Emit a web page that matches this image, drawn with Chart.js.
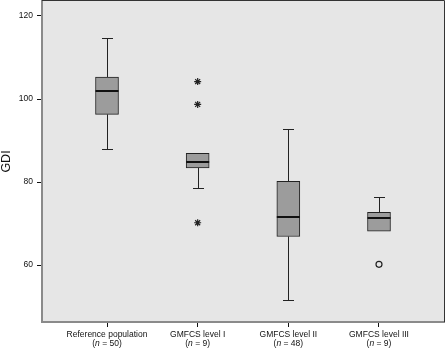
<!DOCTYPE html>
<html>
<head>
<meta charset="utf-8">
<script src="https://cdn.jsdelivr.net/npm/chart.js@4"></script>
<style>
  body { margin: 0; background: #fff; }
</style>
</head>
<body>
<canvas id="chart" width="445" height="350"></canvas>
<script>
// Groups and sizes
const categories = ['Reference population', 'GMFCS level I', 'GMFCS level II', 'GMFCS level III'];
const groupSizes = [50, 9, 48, 9];

// Box plot statistics (GDI)
const whiskerLow = [88.0, 78.6, 51.7, 68.2];
const q1 = [96.3, 83.4, 66.9, 68.2];
const medians = [101.9, 84.8, 71.6, 71.3];
const q3 = [105.3, 86.9, 80.2, 72.7];
const whiskerHigh = [114.6, 86.9, 92.7, 76.5];

// Extremes (asterisks) and outliers (circles)
const extremeGroup = [1, 1, 1];
const extremeValues = [104.2, 98.7, 70.2];
const outlierGroup = [3];
const outlierValues = [60.2];

const yTicks = [60, 80, 100, 120];

const FONT = 'Liberation Sans, Arial, sans-serif';

// Bakgrund, morrhår, medianer och etiketter
const boxPlotPlugin = {
    id: 'boxPlot',
    beforeDraw(chart) {
        const { ctx, chartArea: a } = chart;
        ctx.save();
        ctx.fillStyle = '#e6e6e6';
        ctx.fillRect(a.left, a.top, a.right - a.left, a.bottom - a.top);
        ctx.restore();
    },
    beforeDatasetsDraw(chart) {
        const { ctx, scales: { x, y } } = chart;
        ctx.save();
        ctx.strokeStyle = '#222';
        ctx.lineWidth = 1;
        categories.forEach((c, i) => {
            const cx = Math.round(x.getPixelForValue(i)) + 0.5;
            const cap = 5.5;
            [[q3[i], whiskerHigh[i]], [q1[i], whiskerLow[i]]].forEach(([from, to]) => {
                if (Math.abs(from - to) < 0.01) return;
                const y1 = y.getPixelForValue(from);
                const y2 = Math.round(y.getPixelForValue(to)) + 0.5;
                ctx.beginPath();
                ctx.moveTo(cx, y1);
                ctx.lineTo(cx, y2);
                ctx.moveTo(cx - cap, y2);
                ctx.lineTo(cx + cap, y2);
                ctx.stroke();
            });
        });
        ctx.restore();
    },
    afterDatasetsDraw(chart) {
        const { ctx, scales: { x, y } } = chart;
        ctx.save();
        ctx.strokeStyle = '#111';
        ctx.lineWidth = 2;
        categories.forEach((c, i) => {
            const cx = x.getPixelForValue(i);
            const my = Math.round(y.getPixelForValue(medians[i]));
            ctx.beginPath();
            ctx.moveTo(cx - 11.5, my);
            ctx.lineTo(cx + 11.5, my);
            ctx.stroke();
        });
        ctx.restore();
    },
    afterDraw(chart) {
        const { ctx, chartArea: a, scales: { x } } = chart;
        ctx.save();
        // övre och högra ramen
        ctx.strokeStyle = '#333';
        ctx.lineWidth = 1;
        ctx.beginPath();
        ctx.moveTo(a.left, a.top - 0.5);
        ctx.lineTo(a.right + 0.5, a.top - 0.5);
        ctx.lineTo(a.right + 0.5, a.bottom);
        ctx.stroke();

        // kategorietiketter med kursivt n
        ctx.fillStyle = '#111';
        ctx.textBaseline = 'middle';
        const normal = '8.5px ' + FONT;
        const italic = 'italic 8.5px ' + FONT;
        categories.forEach((c, i) => {
            const cx = x.getPixelForValue(i);
            ctx.font = normal;
            ctx.textAlign = 'center';
            ctx.fillText(c, cx, a.bottom + 13);
            const parts = [['(', normal], ['n', italic], [' = ' + groupSizes[i] + ')', normal]];
            let total = 0;
            parts.forEach(([t, f]) => { ctx.font = f; total += ctx.measureText(t).width; });
            let px = cx - total / 2;
            ctx.textAlign = 'left';
            parts.forEach(([t, f]) => {
                ctx.font = f;
                ctx.fillText(t, px, a.bottom + 22);
                px += ctx.measureText(t).width;
            });
        });
        ctx.restore();
    }
};

new Chart(document.getElementById('chart'), {
    data: {
        datasets: [
            {
                type: 'bar',
                data: categories.map((c, i) => ({ x: i, y: [q1[i], q3[i]] })),
                backgroundColor: '#9c9c9c',
                borderColor: '#222',
                borderWidth: 1,
                borderSkipped: false,
                barThickness: 23
            },
            {
                type: 'scatter',
                data: extremeValues.map((v, i) => ({ x: extremeGroup[i], y: v })),
                pointStyle: 'star',
                radius: 3.5,
                borderColor: '#222',
                borderWidth: 1.2
            },
            {
                type: 'scatter',
                data: outlierValues.map((v, i) => ({ x: outlierGroup[i], y: v })),
                pointStyle: 'circle',
                radius: 3,
                backgroundColor: 'rgba(0,0,0,0)',
                borderColor: '#222',
                borderWidth: 1.2
            }
        ]
    },
    options: {
        responsive: false,
        animation: false,
        layout: { autoPadding: false, padding: { top: 1, right: 1, left: 0, bottom: 0 } },
        plugins: {
            legend: { display: false },
            tooltip: { enabled: false }
        },
        scales: {
            x: {
                type: 'linear',
                offset: false,
                min: -0.717,
                max: 3.717,
                afterBuildTicks: scale => { scale.ticks = categories.map((c, i) => ({ value: i })); },
                afterFit: scale => {
                    scale.height = 28;
                    scale.paddingLeft = 0;
                    scale.paddingRight = 0;
                },
                grid: { offset: false, drawOnChartArea: false, drawTicks: true, tickLength: 5, color: '#111' },
                border: { color: '#8a8a8a', width: 2 },
                ticks: { display: false }
            },
            y: {
                min: 46.3,
                max: 123.6,
                afterBuildTicks: scale => { scale.ticks = yTicks.map(v => ({ value: v })); },
                afterFit: scale => {
                    scale.width = 42;
                    scale.paddingTop = 0;
                    scale.paddingBottom = 0;
                },
                grid: { drawOnChartArea: false, drawTicks: true, tickLength: 5, color: '#111' },
                border: { color: '#8a8a8a', width: 2 },
                ticks: {
                    color: '#111',
                    padding: 4,
                    font: { family: FONT, size: 8.5 }
                },
                title: {
                    display: true,
                    text: 'GDI',
                    color: '#111',
                    padding: { top: 0, bottom: 0 },
                    font: { family: FONT, size: 12.5, lineHeight: 1 }
                }
            }
        }
    },
    plugins: [boxPlotPlugin]
});
</script>
</body>
</html>
